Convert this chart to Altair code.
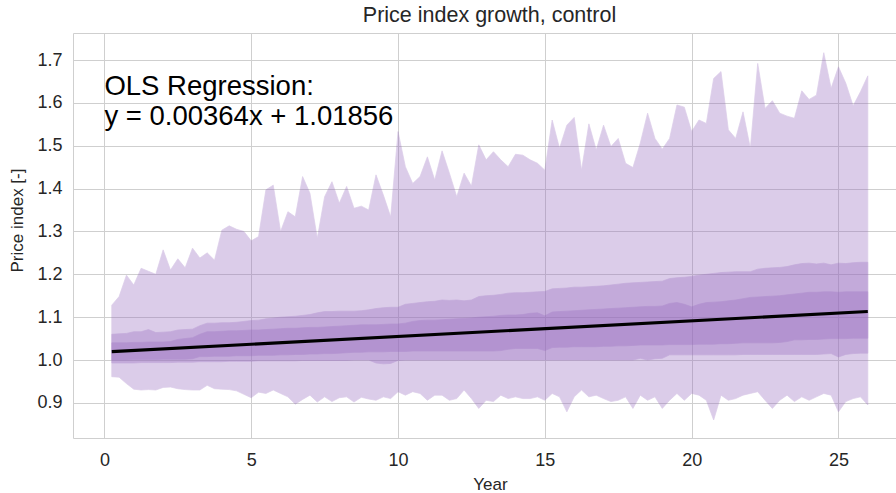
import altair as alt
import pandas as pd

# ---------------- data ----------------
year = [round(0.25 * i, 2) for i in range(1, 105)]

outer_top = [
    1.128, 1.148, 1.198, 1.175, 1.214, 1.207, 1.200, 1.257,
    1.210, 1.236, 1.215, 1.261, 1.238, 1.250, 1.233, 1.303,
    1.313, 1.305, 1.300, 1.278, 1.288, 1.397, 1.408, 1.300,
    1.346, 1.334, 1.428, 1.389, 1.284, 1.381, 1.416, 1.366,
    1.405, 1.354, 1.359, 1.350, 1.432, 1.385, 1.334, 1.533,
    1.451, 1.412, 1.428, 1.474, 1.420, 1.488, 1.436, 1.381,
    1.436, 1.406, 1.502, 1.467, 1.486, 1.467, 1.451, 1.480,
    1.478, 1.467, 1.459, 1.443, 1.560, 1.494, 1.548, 1.566,
    1.443, 1.551, 1.490, 1.548, 1.498, 1.517, 1.459, 1.449,
    1.506, 1.576, 1.517, 1.492, 1.517, 1.595, 1.590, 1.533,
    1.560, 1.552, 1.657, 1.673, 1.537, 1.517, 1.579, 1.494,
    1.692, 1.587, 1.605, 1.576, 1.569, 1.564, 1.628, 1.608,
    1.618, 1.717, 1.634, 1.684, 1.646, 1.593, 1.626, 1.663,
]

outer_bottom = [
    0.961, 0.960, 0.945, 0.932, 0.930, 0.931, 0.930, 0.936,
    0.937, 0.933, 0.931, 0.930, 0.930, 0.941, 0.933, 0.932,
    0.931, 0.928, 0.920, 0.912, 0.925, 0.922, 0.930, 0.922,
    0.914, 0.897, 0.908, 0.918, 0.902, 0.914, 0.903, 0.912,
    0.914, 0.902, 0.913, 0.909, 0.906, 0.914, 0.910, 0.926,
    0.918, 0.926, 0.922, 0.906, 0.918, 0.918, 0.906, 0.910,
    0.930, 0.910, 0.887, 0.906, 0.903, 0.918, 0.910, 0.914,
    0.910, 0.910, 0.914, 0.906, 0.922, 0.914, 0.879, 0.914,
    0.930, 0.914, 0.918, 0.910, 0.903, 0.906, 0.914, 0.887,
    0.918, 0.906, 0.914, 0.887, 0.906, 0.922, 0.906, 0.922,
    0.918, 0.906, 0.860, 0.918, 0.906, 0.910, 0.918, 0.922,
    0.926, 0.906, 0.887, 0.906, 0.918, 0.903, 0.914, 0.906,
    0.914, 0.922, 0.918, 0.879, 0.903, 0.910, 0.914, 0.895,
]

mid_top = [
    1.060, 1.061, 1.062, 1.066, 1.066, 1.071, 1.064, 1.065,
    1.066, 1.070, 1.071, 1.072, 1.080, 1.086, 1.086, 1.087,
    1.087, 1.088, 1.090, 1.092, 1.093, 1.096, 1.098, 1.100,
    1.101, 1.102, 1.104, 1.106, 1.110, 1.113, 1.113, 1.114,
    1.114, 1.114, 1.115, 1.117, 1.120, 1.122, 1.123, 1.123,
    1.130, 1.132, 1.134, 1.136, 1.137, 1.140, 1.139, 1.140,
    1.138, 1.140, 1.148, 1.150, 1.151, 1.153, 1.156, 1.157,
    1.157, 1.158, 1.159, 1.160, 1.166, 1.167, 1.168, 1.170,
    1.170, 1.171, 1.172, 1.173, 1.175, 1.177, 1.179, 1.180,
    1.181, 1.182, 1.183, 1.184, 1.190, 1.192, 1.193, 1.195,
    1.198, 1.200, 1.202, 1.204, 1.205, 1.206, 1.206, 1.206,
    1.212, 1.214, 1.215, 1.216, 1.218, 1.222, 1.225, 1.226,
    1.224, 1.226, 1.222, 1.226, 1.225, 1.227, 1.228, 1.228,
]

mid_bottom = [
    0.993, 0.993, 0.993, 0.993, 0.994, 0.994, 0.994, 0.994,
    0.994, 0.995, 0.995, 0.995, 0.996, 0.996, 0.996, 0.996,
    0.997, 0.997, 0.997, 0.997, 0.998, 0.998, 0.998, 0.998,
    0.998, 0.998, 0.999, 0.999, 0.999, 0.999, 0.999, 0.999,
    0.999, 1.000, 1.000, 1.000, 0.993, 0.991, 0.992, 0.999,
    1.000, 1.000, 1.000, 1.000, 1.000, 1.000, 1.000, 1.000,
    1.000, 1.000, 1.000, 1.000, 1.000, 1.000, 1.000, 1.000,
    1.000, 1.000, 1.000, 1.000, 1.000, 1.000, 1.000, 1.000,
    1.000, 1.000, 1.000, 1.000, 1.000, 1.000, 1.000, 1.000,
    1.004, 1.000, 1.003, 1.004, 1.012, 1.012, 1.012, 1.012,
    1.012, 1.012, 1.012, 1.012, 1.012, 1.012, 1.013, 1.013,
    1.013, 1.013, 1.013, 1.013, 1.013, 1.013, 1.013, 1.013,
    1.013, 1.014, 1.015, 1.007, 1.013, 1.015, 1.016, 1.016,
]

inner_top = [
    1.040, 1.040, 1.040, 1.041, 1.041, 1.042, 1.042, 1.042,
    1.043, 1.048, 1.050, 1.052, 1.060, 1.066, 1.066, 1.067,
    1.068, 1.068, 1.069, 1.070, 1.070, 1.071, 1.072, 1.073,
    1.074, 1.074, 1.075, 1.076, 1.076, 1.077, 1.078, 1.079,
    1.080, 1.081, 1.082, 1.082, 1.082, 1.083, 1.084, 1.084,
    1.086, 1.090, 1.092, 1.093, 1.093, 1.094, 1.095, 1.096,
    1.097, 1.098, 1.100, 1.101, 1.102, 1.104, 1.105, 1.105,
    1.106, 1.109, 1.110, 1.103, 1.112, 1.113, 1.114, 1.115,
    1.116, 1.117, 1.118, 1.119, 1.120, 1.121, 1.122, 1.123,
    1.124, 1.125, 1.125, 1.126, 1.132, 1.134, 1.130, 1.124,
    1.130, 1.134, 1.135, 1.136, 1.138, 1.140, 1.143, 1.146,
    1.147, 1.148, 1.149, 1.150, 1.152, 1.154, 1.156, 1.158,
    1.158, 1.159, 1.159, 1.158, 1.159, 1.159, 1.159, 1.159,
]

inner_bottom = [
    1.000, 1.000, 1.000, 1.001, 1.001, 1.001, 1.001, 1.002,
    1.002, 1.002, 1.002, 1.003, 1.008, 1.008, 1.009, 1.009,
    1.009, 1.010, 1.010, 1.010, 1.011, 1.011, 1.011, 1.012,
    1.012, 1.013, 1.013, 1.014, 1.014, 1.015, 1.015, 1.016,
    1.017, 1.018, 1.018, 1.019, 1.019, 1.019, 1.020, 1.020,
    1.020, 1.021, 1.021, 1.021, 1.021, 1.021, 1.021, 1.021,
    1.021, 1.021, 1.021, 1.021, 1.021, 1.022, 1.025, 1.027,
    1.027, 1.027, 1.027, 1.022, 1.029, 1.030, 1.030, 1.031,
    1.031, 1.031, 1.031, 1.032, 1.032, 1.033, 1.033, 1.034,
    1.035, 1.035, 1.035, 1.035, 1.036, 1.036, 1.036, 1.036,
    1.037, 1.037, 1.037, 1.038, 1.038, 1.039, 1.040, 1.040,
    1.040, 1.040, 1.040, 1.041, 1.043, 1.047, 1.047, 1.048,
    1.048, 1.049, 1.050, 1.050, 1.050, 1.051, 1.051, 1.051,
]

ols_slope = 0.00364
ols_intercept = 1.01856
ols_x = [year[0], year[-1]]
ols_y = [ols_slope * v + ols_intercept for v in ols_x]

note_lines = ["OLS Regression:", "y = 0.00364x + 1.01856"]
note_x = [0.0, 0.0]
note_y = [1.618, 1.548]

x_ticks = [0, 5, 10, 15, 20, 25]
y_ticks = [0.9, 1.0, 1.1, 1.2, 1.3, 1.4, 1.5, 1.6, 1.7]

# ---------------- chart ----------------
FONT = "Liberation Sans"
TXT = "#262626"
GRID = "#cfcfcf"
PURPLE = "#9467bd"

bands = pd.DataFrame({
    "year": year,
    "outer_lo": outer_bottom, "outer_hi": outer_top,
    "mid_lo": mid_bottom, "mid_hi": mid_top,
    "in_lo": inner_bottom, "in_hi": inner_top,
})
ols_df = pd.DataFrame({"year": ols_x, "value": ols_y})
note_df = pd.DataFrame({"year": note_x, "value": note_y, "text": note_lines})

xscale = alt.Scale(domain=[-1.07, 26.96], nice=False, zero=False)
yscale = alt.Scale(domain=[0.818, 1.763], nice=False, zero=False)

xaxis = alt.Axis(
    title="Year", values=x_ticks, format="d", grid=True, gridColor=GRID,
    ticks=False, tickSize=0, domain=False, labelFontSize=18, labelColor=TXT,
    labelFont=FONT, labelPadding=13, titleFontSize=17, titleFont=FONT,
    titleFontWeight="normal", titleColor=TXT, titleX=417, titleY=51,
    titleBaseline="alphabetic", titleAnchor="start", titleAlign="center",
)
yaxis = alt.Axis(
    title="Price index [-]", values=y_ticks, format=".1f", grid=True,
    gridColor=GRID, ticks=False, tickSize=0, domain=False, labelFontSize=18,
    labelColor=TXT, labelFont=FONT, labelPadding=11, titleFontSize=17,
    titleFont=FONT, titleFontWeight="normal", titleColor=TXT, titleX=-51,
    titleY=187, titleBaseline="alphabetic", titleAlign="center", titleAngle=270,
)

base = alt.Chart(bands)

def band(lo, hi):
    return base.mark_area(
        color=PURPLE, opacity=0.33, stroke=PURPLE, strokeOpacity=0.7,
        strokeWidth=1,
    ).encode(
        x=alt.X("year:Q", scale=xscale, axis=xaxis),
        y=alt.Y(f"{lo}:Q", scale=yscale, axis=yaxis),
        y2=alt.Y2(f"{hi}:Q"),
    )

outer = band("outer_lo", "outer_hi")
middle = band("mid_lo", "mid_hi")
inner = band("in_lo", "in_hi")

ols = alt.Chart(ols_df).mark_line(color="black", strokeWidth=3.2).encode(
    x=alt.X("year:Q", scale=xscale),
    y=alt.Y("value:Q", scale=yscale),
)

note = alt.Chart(note_df).mark_text(
    align="left", baseline="alphabetic", font=FONT, fontSize=27.5,
    color="black",
).encode(
    x=alt.X("year:Q", scale=xscale),
    y=alt.Y("value:Q", scale=yscale),
    text="text:N",
)

chart = alt.layer(outer, middle, inner, ols, note).properties(
    width=823,
    height=405,
    title=alt.TitleParams(
        "Price index growth, control", font=FONT, fontSize=21.5,
        fontWeight="normal", color=TXT, anchor="middle", dx=5, offset=-10,
        baseline="alphabetic",
    ),
    autosize=alt.AutoSizeParams(type="none"),
    padding={"left": 73, "top": 33, "right": 0, "bottom": 55},
).configure(font=FONT, background="white").configure_view(
    stroke=GRID, strokeWidth=1,
)

chart.save("out.html", embed_options={"renderer": "svg", "actions": False})
